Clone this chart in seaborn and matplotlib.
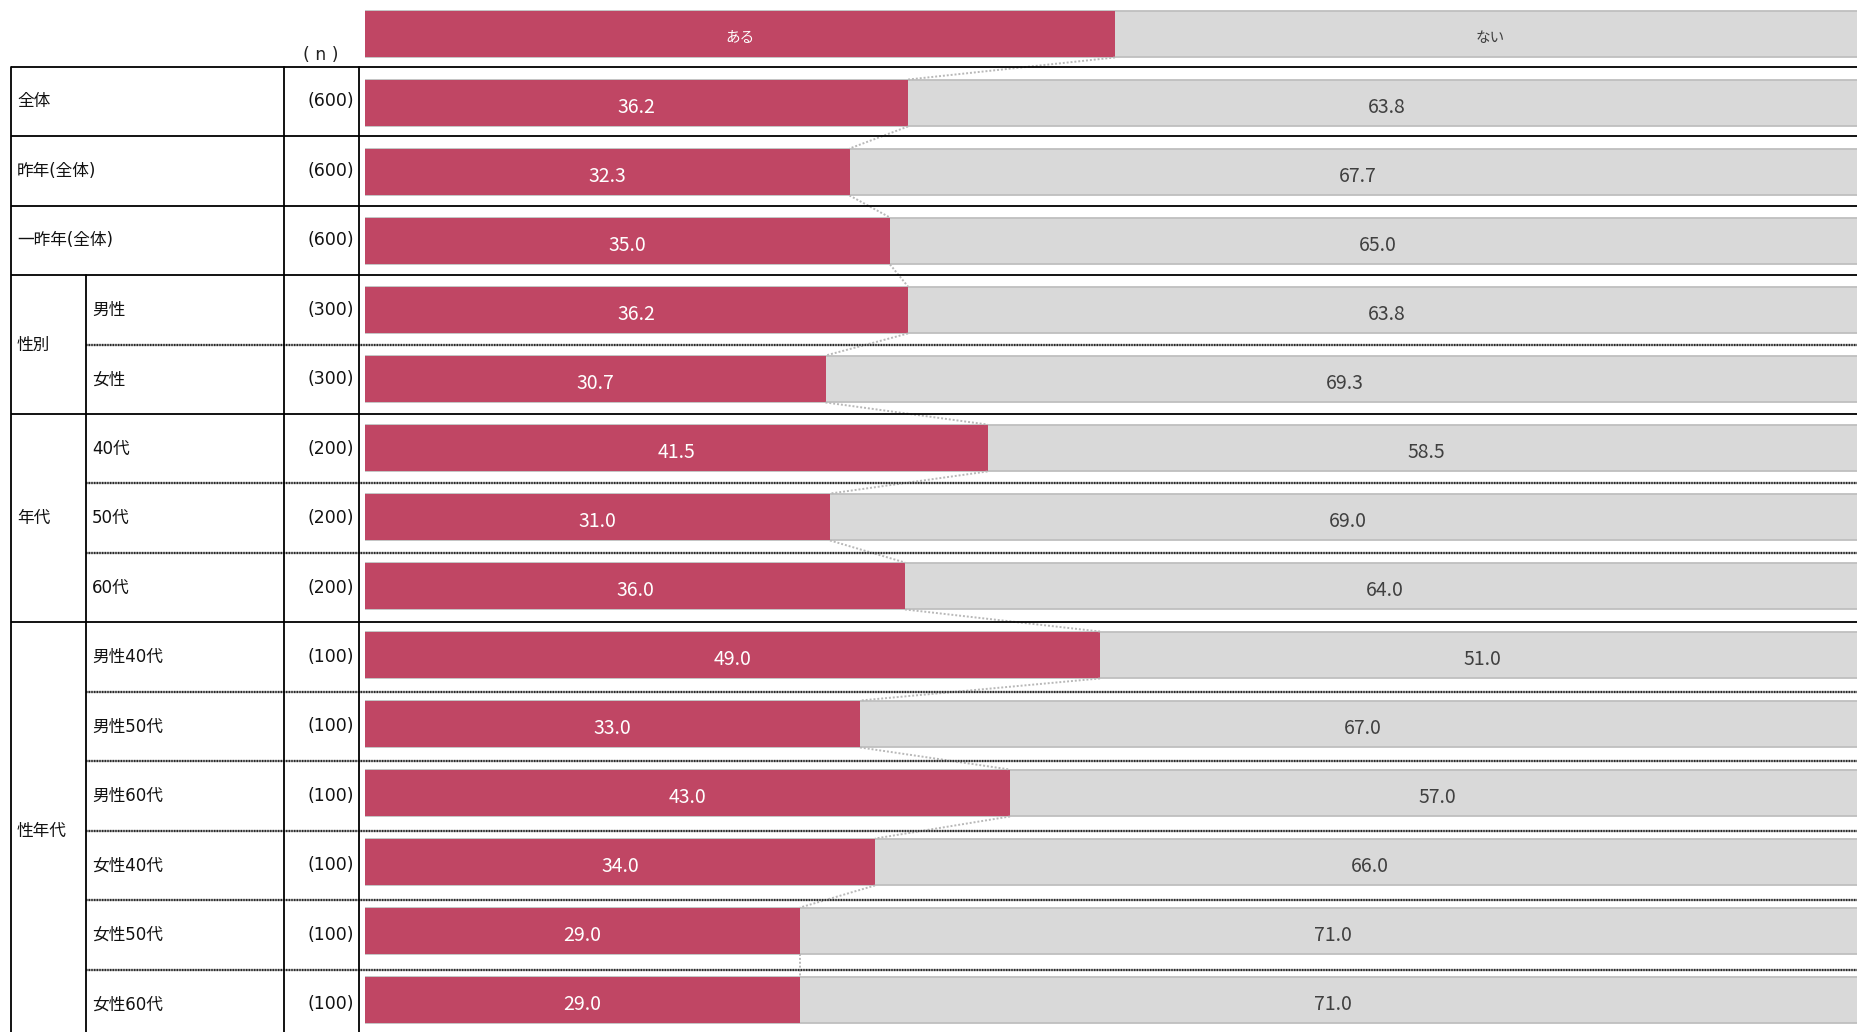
import matplotlib
matplotlib.use("Agg")
import matplotlib.pyplot as plt
import pandas as pd
import seaborn as sns

# ---- data -------------------------------------------------------------
categories = ["全体", "昨年(全体)", "一昨年(全体)", "男性", "女性", "40代", "50代", "60代",
              "男性40代", "男性50代", "男性60代", "女性40代", "女性50代", "女性60代"]
sample_sizes = [600, 600, 600, 300, 300, 200, 200, 200, 100, 100, 100, 100, 100, 100]
aru = [36.2, 32.3, 35.0, 36.2, 30.7, 41.5, 31.0, 36.0, 49.0, 33.0, 43.0, 34.0, 29.0, 29.0]
nai = [63.8, 67.7, 65.0, 63.8, 69.3, 58.5, 69.0, 64.0, 51.0, 67.0, 57.0, 66.0, 71.0, 71.0]
series_names = ["ある", "ない"]
key_split = [50, 50]
# grouped sections: (label, first row, row after last)
groups = [("性別", 3, 5), ("年代", 5, 8), ("性年代", 8, 14)]

RED = "#c04664"
GRAY = "#d9d9d9"
GRAY_EDGE = "#bfbfbf"
TEXT_DARK = "#404040"

W, H = 1857, 1032
sns.set_theme(style="white")
plt.rcParams["font.family"] = ["DejaVu Sans", "Noto Sans CJK JP"]

fig = plt.figure(figsize=(W / 100, H / 100), dpi=100)

# ---- bar area ---------------------------------------------------------
bar_left = 365
px_per_pct = 15.0
row_pitch = 69.0
first_center = 34.0
bar_width = 0.68

df = pd.DataFrame({
    "row": ["_key"] + categories,
    "aru": [key_split[0]] + aru,
    "nai": [key_split[1]] + nai,
})
df["total"] = df["aru"] + df["nai"]

ax = fig.add_axes([bar_left / W, 0, (W - bar_left) / W, 1])
sns.barplot(data=df, y="row", x="total", orient="h", color=GRAY, saturation=1,
            edgecolor=GRAY_EDGE, linewidth=1.3, width=bar_width, errorbar=None, ax=ax)
sns.barplot(data=df, y="row", x="aru", orient="h", color=RED, saturation=1,
            linewidth=0, width=bar_width, errorbar=None, ax=ax)
ax.set_xlim(0, (W - bar_left) / px_per_pct)
ax.set_ylim((H - first_center) / row_pitch, -first_center / row_pitch)
ax.set_axis_off()

# key row
ax.text(df["aru"][0] / 2, 0.06, series_names[0], ha="center", va="center",
        color="white", fontsize=10.5, family=["Noto Sans CJK JP"])
ax.text(df["aru"][0] + df["nai"][0] / 2, 0.06, series_names[1], ha="center", va="center",
        color=TEXT_DARK, fontsize=10.5, family=["Noto Sans CJK JP"])

# value labels
for k in range(1, len(df)):
    a, n = df["aru"][k], df["nai"][k]
    ax.text(a / 2, k + 0.07, f"{a:.1f}", ha="center", va="center",
            color="white", fontsize=14, family=["Noto Sans CJK JP"])
    ax.text(a + n / 2, k + 0.07, f"{n:.1f}", ha="center", va="center",
            color=TEXT_DARK, fontsize=14, family=["Noto Sans CJK JP"])

# dotted connectors between the ends of consecutive red bars
half = bar_width / 2
for k in range(len(df) - 1):
    ax.plot([df["aru"][k], df["aru"][k + 1]], [k + half, k + 1 - half],
            color="#b8b8b8", lw=1.4, ls=(0, (1, 1)), zorder=5)

# ---- table overlay ----------------------------------------------------
tx = fig.add_axes([0, 0, 1, 1])
tx.set_xlim(0, W)
tx.set_ylim(H, 0)
tx.set_axis_off()
tx.patch.set_alpha(0)

table_top = 66.7
row_h = 69.45
x_border, x_sub, x_ncol, x_bars = 11, 86, 284, 359
n_rows = len(categories)

def row_y(i):
    return table_top + row_h * i

group_starts = {g[1] for g in groups}
lw_solid = 1.3
for i in range(n_rows):
    y = row_y(i)
    if i < 3 or i in group_starts:
        tx.plot([x_border, W], [y, y], color="black", lw=lw_solid, solid_capstyle="butt")
    else:
        tx.plot([x_sub, W], [y, y], color="#a0a0a0", lw=1.6, solid_capstyle="butt")
        tx.plot([x_sub, W], [y, y], color="#2a2a2a", lw=1.6, ls=(0, (0.6, 0.6)))

y_bottom = row_y(n_rows)
for x in (x_border, x_ncol, x_bars):
    tx.plot([x, x], [table_top, y_bottom], color="black", lw=lw_solid)
tx.plot([x_sub, x_sub], [row_y(groups[0][1]), y_bottom], color="black", lw=lw_solid)

tx.text(321, 55.5, "( n )", ha="center", va="center", fontsize=12.5, color="#222222")

label_kw = dict(va="center", fontsize=12, color="#111111")
for i, (cat, n) in enumerate(zip(categories, sample_sizes)):
    yc = (row_y(i) + row_y(i + 1)) / 2
    in_group = any(g[1] <= i < g[2] for g in groups)
    tx.text(92 if in_group else 17, yc, cat, ha="left", **label_kw)
    tx.text(354, yc, f"({n})", ha="right", va="center", fontsize=12.5, color="#111111")

for name, s, e in groups:
    yc = (row_y(s) + row_y(e)) / 2
    tx.text(17, yc, name, ha="left", **label_kw)

fig.savefig("out.png", dpi=100)
